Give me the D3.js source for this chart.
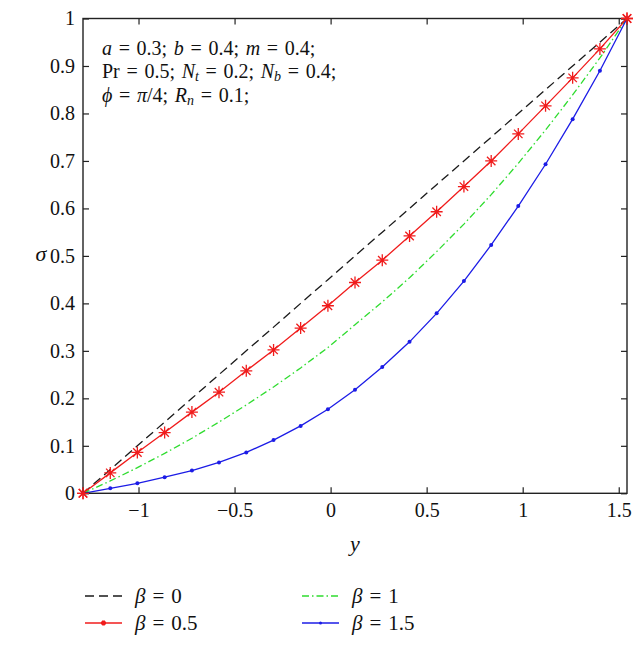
<!DOCTYPE html>
<html>
<head>
<meta charset="utf-8">
<script src="https://cdn.jsdelivr.net/npm/d3@7"></script>
<style>
  body { margin: 0; background: #fff; }
</style>
</head>
<body>
<div id="canvas"></div>
<script>
// sigma profiles across the channel for several beta values
const yPoints = [-1.289, -1.147, -1.006, -0.864, -0.722, -0.581, -0.439, -0.297, -0.156, -0.014,
  0.127, 0.269, 0.411, 0.552, 0.694, 0.836, 0.977, 1.119, 1.260, 1.402, 1.543]
const sigmaBeta0 = [0, 0.05, 0.10, 0.15, 0.20, 0.25, 0.30, 0.35, 0.40, 0.45,
  0.50, 0.55, 0.60, 0.65, 0.70, 0.75, 0.80, 0.85, 0.90, 0.95, 1]
const sigmaBeta05 = [0, 0.043, 0.086, 0.128, 0.171, 0.213, 0.258, 0.302, 0.348, 0.395,
  0.444, 0.491, 0.542, 0.593, 0.646, 0.700, 0.757, 0.816, 0.875, 0.936, 1]
const sigmaBeta1 = [0, 0.026, 0.054, 0.084, 0.116, 0.150, 0.186, 0.224, 0.264, 0.307,
  0.355, 0.403, 0.454, 0.509, 0.567, 0.629, 0.695, 0.765, 0.839, 0.917, 1]
const sigmaBeta15 = [0, 0.0105, 0.021, 0.034, 0.048, 0.065, 0.086, 0.112, 0.142, 0.177,
  0.218, 0.266, 0.319, 0.379, 0.447, 0.523, 0.605, 0.693, 0.788, 0.890, 1]

const xTicks = [-1, -0.5, 0, 0.5, 1, 1.5]
const xTickLabels = ['\u22121', '\u22120.5', '0', '0.5', '1', '1.5']
const yTicks = [0, 0.1, 0.2, 0.3, 0.4, 0.5, 0.6, 0.7, 0.8, 0.9, 1]
const yTickLabels = ['0', '0.1', '0.2', '0.3', '0.4', '0.5', '0.6', '0.7', '0.8', '0.9', '1']

const width = 643
const height = 649
const plotLeft = 83
const plotRight = 627
const plotTop = 18.5
const plotBottom = 493.3
const fontSize = 20
const serif = '"Liberation Serif"'
const sp = '\u2004' // a bit wider than a normal space, like math spacing

const series = [
  { label: '0', values: sigmaBeta0, color: '#1a1a1a', dash: '9,5', marker: 'none' },
  { label: '0.5', values: sigmaBeta05, color: '#f01c1c', dash: null, marker: 'star' },
  { label: '1', values: sigmaBeta1, color: '#2fdc2f', dash: '7,3,1.5,3', marker: 'none' },
  { label: '1.5', values: sigmaBeta15, color: '#1c1ce6', dash: null, marker: 'dot' }
]

const svg = d3.select('#canvas').append('svg')
  .attr('width', width)
  .attr('height', height)

const x = d3.scaleLinear().domain([yPoints[0], yPoints[yPoints.length - 1]]).range([plotLeft, plotRight])
const y = d3.scaleLinear().domain([0, 1]).range([plotBottom, plotTop])

const starPath = function (r) {
  const d = r * 0.7071
  return `M${-r},0H${r}M0,${-r}V${r}M${-d},${-d}L${d},${d}M${-d},${d}L${d},${-d}`
}

// curves
const line = d3.line()
  .x(d => x(d[0]))
  .y(d => y(d[1]))

series.forEach(s => {
  const pts = yPoints.map((v, i) => [v, s.values[i]])
  svg.append('path')
    .datum(pts)
    .attr('d', line)
    .attr('fill', 'none')
    .attr('stroke', s.color)
    .attr('stroke-width', 1.3)
    .attr('stroke-dasharray', s.dash)
  if (s.marker === 'star') {
    svg.selectAll(null).data(pts).enter().append('path')
      .attr('d', starPath(6))
      .attr('transform', d => `translate(${x(d[0])},${y(d[1])})`)
      .attr('stroke', s.color)
      .attr('stroke-width', 1.3)
      .attr('fill', 'none')
  } else if (s.marker === 'dot') {
    svg.selectAll(null).data(pts).enter().append('circle')
      .attr('cx', d => x(d[0]))
      .attr('cy', d => y(d[1]))
      .attr('r', 2)
      .attr('fill', s.color)
  }
})

// axes, ticks pointing inwards on every side
const tickLen = 6
const styleAxis = g => {
  g.select('.domain').remove()
  g.selectAll('.tick line').attr('stroke', '#222').attr('stroke-width', 1.2)
  g.selectAll('.tick text')
    .style('font-family', serif)
    .style('font-size', fontSize + 'px')
    .attr('fill', '#111')
}

svg.append('g')
  .attr('transform', `translate(0,${plotBottom})`)
  .call(d3.axisBottom(x).tickValues(xTicks).tickSize(-tickLen).tickPadding(10)
    .tickFormat((d, i) => xTickLabels[i]))
  .call(styleAxis)

svg.append('g')
  .attr('transform', `translate(0,${plotTop})`)
  .call(d3.axisTop(x).tickValues(xTicks).tickSize(-tickLen).tickFormat(''))
  .call(styleAxis)

svg.append('g')
  .attr('transform', `translate(${plotLeft},0)`)
  .call(d3.axisLeft(y).tickValues(yTicks).tickSize(-tickLen).tickPadding(8)
    .tickFormat((d, i) => yTickLabels[i]))
  .call(styleAxis)

svg.append('g')
  .attr('transform', `translate(${plotRight},0)`)
  .call(d3.axisRight(y).tickValues(yTicks).tickSize(-tickLen).tickFormat(''))
  .call(styleAxis)

svg.append('rect')
  .attr('x', plotLeft)
  .attr('y', plotTop)
  .attr('width', plotRight - plotLeft)
  .attr('height', plotBottom - plotTop)
  .attr('fill', 'none')
  .attr('stroke', '#222')
  .attr('stroke-width', 1.4)

// redraw the end markers on top of the frame
svg.selectAll(null).data([[yPoints[0], 0], [yPoints[yPoints.length - 1], 1]]).enter().append('path')
  .attr('d', starPath(6))
  .attr('transform', d => `translate(${x(d[0])},${y(d[1])})`)
  .attr('stroke', series[1].color)
  .attr('stroke-width', 1.3)
  .attr('fill', 'none')

// axis labels
svg.append('text')
  .attr('x', 355)
  .attr('y', 551)
  .attr('text-anchor', 'middle')
  .attr('fill', '#111')
  .style('font-family', serif)
  .style('font-size', '22px')
  .style('font-style', 'italic')
  .text('y')

svg.append('text')
  .attr('x', 41)
  .attr('y', 261)
  .attr('text-anchor', 'middle')
  .attr('fill', '#111')
  .style('font-family', serif)
  .style('font-size', '22px')
  .style('font-style', 'italic')
  .text('\u03c3')

// parameter box
const eq = sp + '=' + sp
const paramLines = [
  [['a', 'i'], [eq + '0.3;' + sp, ''], ['b', 'i'], [eq + '0.4;' + sp, ''], ['m', 'i'], [eq + '0.4;', '']],
  [['Pr' + eq + '0.5;' + sp, ''], ['N', 'i'], ['t', 's'], [eq + '0.2;' + sp, ''], ['N', 'i'], ['b', 's'], [eq + '0.4;', '']],
  [['\u03d5', 'i'], [eq, ''], ['\u03c0', 'i'], ['/4;' + sp, ''], ['R', 'i'], ['n', 's'], [eq + '0.1;', '']]
]
const paramBaselines = [55, 78, 102]

paramLines.forEach((parts, li) => {
  const t = svg.append('text')
    .attr('x', 102)
    .attr('y', paramBaselines[li])
    .attr('fill', '#111')
    .style('font-family', serif)
    .style('font-size', fontSize + 'px')
    .style('white-space', 'pre')
  parts.forEach((p, i) => {
    const span = t.append('tspan').text(p[0])
    if (p[1] === 'i') span.style('font-style', 'italic')
    if (p[1] === 's') {
      span.style('font-style', 'italic').style('font-size', '14px').attr('dy', 3)
    } else if (i > 0 && parts[i - 1][1] === 's') {
      span.attr('dy', -3)
    }
  })
})

// legend
const legendPos = [[85, 596], [85, 623], [302, 596], [302, 623]]
series.forEach((s, i) => {
  const lx = legendPos[i][0]
  const ly = legendPos[i][1]
  const g = svg.append('g')
  g.append('line')
    .attr('x1', lx)
    .attr('x2', lx + 37)
    .attr('y1', ly)
    .attr('y2', ly)
    .attr('stroke', s.color)
    .attr('stroke-width', 1.3)
    .attr('stroke-dasharray', s.dash)
  if (s.marker === 'star') {
    g.append('path')
      .attr('d', starPath(2.5))
      .attr('transform', `translate(${lx + 18.5},${ly})`)
      .attr('stroke', s.color)
      .attr('stroke-width', 2)
  } else if (s.marker === 'dot') {
    g.append('circle')
      .attr('cx', lx + 18.5)
      .attr('cy', ly)
      .attr('r', 1.5)
      .attr('fill', s.color)
  }
  const t = g.append('text')
    .attr('x', lx + 50)
    .attr('y', ly + 7)
    .attr('fill', '#111')
    .style('font-family', serif)
    .style('font-size', '21px')
    .style('white-space', 'pre')
  t.append('tspan').style('font-style', 'italic').text('\u03b2')
  t.append('tspan').text(eq + s.label)
})
</script>
</body>
</html>
